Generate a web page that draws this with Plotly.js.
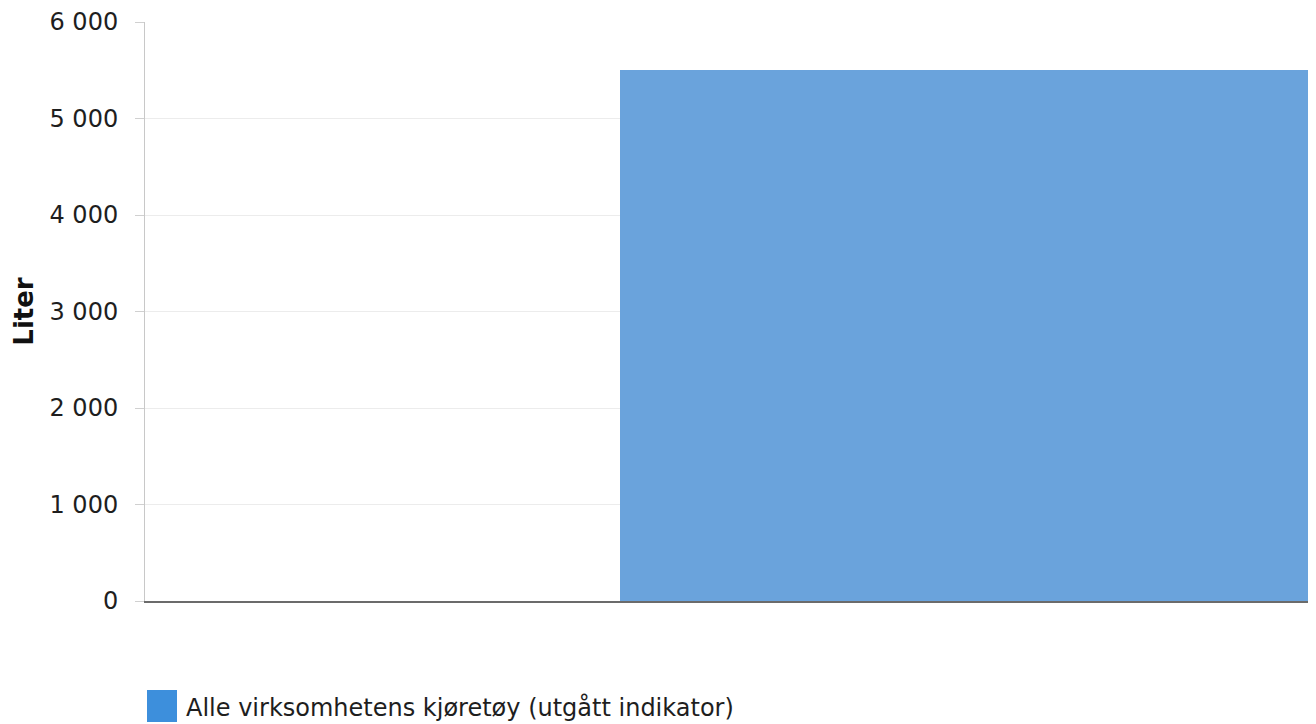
<!DOCTYPE html>
<html>
<head>
<meta charset="utf-8">
<script src="https://cdn.plot.ly/plotly-3.0.1.min.js"></script>
<style>
  html, body { margin: 0; padding: 0; background: #fff; }
  #chart { width: 1316px; height: 724px; }
</style>
</head>
<body>
<div id="chart"></div>
<script>
// Fuel use per period (litres)
const periods = [0, 1];
const litres = [null, 5500];
const seriesName = 'Alle virksomhetens kjøretøy (utgått indikator)';
const yTicks = [0, 1000, 2000, 3000, 4000, 5000, 6000];
const yTickLabels = ['0', '1 000', '2 000', '3 000', '4 000', '5 000', '6 000'];

const barColor = '#6aa3dc';
const font = 'DejaVu Sans, Verdana, sans-serif';

const trace = {
  type: 'bar',
  x: periods,
  y: litres,
  width: 1,
  name: seriesName,
  marker: { color: barColor, line: { width: 0 } },
  showlegend: false,
  hoverinfo: 'y'
};

const layout = {
  width: 1316,
  height: 724,
  margin: { l: 145, r: 8, t: 22, b: 123 },
  paper_bgcolor: '#fff',
  plot_bgcolor: '#fff',
  font: { family: font, color: '#1e1e1e', size: 24 },
  bargap: 0,
  xaxis: {
    range: [-0.19, 1.5],
    showticklabels: false,
    ticks: '',
    showgrid: false,
    zeroline: false,
    showline: true,
    linecolor: '#6b6b6b',
    linewidth: 2,
    fixedrange: true
  },
  yaxis: {
    range: [0, 6000],
    tickvals: yTicks,
    ticktext: yTickLabels,
    ticks: 'outside',
    ticklen: 9,
    tickcolor: '#d0d0d0',
    tickwidth: 1,
    ticklabelstandoff: 12,
    tickfont: { family: font, size: 24, color: '#1e1e1e' },
    showgrid: true,
    gridcolor: '#ececec',
    gridwidth: 1,
    zeroline: false,
    showline: true,
    linecolor: '#c8c8c8',
    linewidth: 1,
    title: { text: '<b>Liter</b>', font: { family: font, size: 26, color: '#111' }, standoff: 8 },
    fixedrange: true
  },
  shapes: [
    {
      type: 'rect', xref: 'paper', yref: 'paper',
      x0: 2 / 1163, x1: 32 / 1163, y0: -121 / 579, y1: -89 / 579,
      fillcolor: '#3d8fdc', line: { width: 0 }
    }
  ],
  annotations: [
    {
      xref: 'paper', yref: 'paper',
      x: 39 / 1163, y: -106 / 579,
      xanchor: 'left', yanchor: 'middle',
      text: seriesName,
      showarrow: false,
      font: { family: font, size: 24, color: '#1e1e1e' }
    }
  ]
};

Plotly.newPlot('chart', [trace], layout, { displayModeBar: false, staticPlot: true });
</script>
</body>
</html>
